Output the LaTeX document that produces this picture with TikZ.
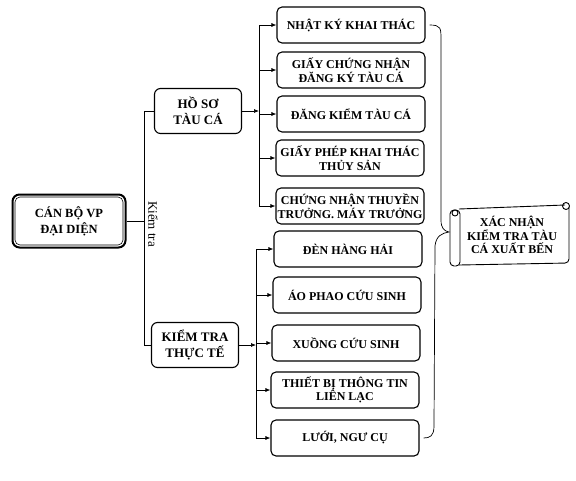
\documentclass[tikz,border=0pt]{standalone}
\usepackage{fontspec}
\setmainfont{Liberation Serif}
\usetikzlibrary{arrows.meta}

\tikzset{
  itembox/.style={draw, line width=1.1pt, rounded corners=5pt, minimum width=148pt,
    minimum height=36pt, inner sep=1pt, align=center,
    font=\bfseries\fontsize{12}{13.5}\selectfont},
  groupbox/.style={draw, line width=1.1pt, rounded corners=6pt, minimum width=87pt,
    minimum height=45pt, inner sep=1pt, align=center,
    font=\bfseries\fontsize{13}{16}\selectfont},
  link/.style={line width=0.7pt},
  arr/.style={link, -{Latex[length=5pt,width=4pt]}}
}

\begin{document}
\begin{tikzpicture}[x=1pt,y=-1pt]
	\useasboundingbox (0,0) rectangle (576,480);

	% root
	\node[draw, line width=2pt, rounded corners=7pt, minimum width=113pt, minimum height=53pt,
	      align=center, font=\bfseries\fontsize{12.5}{16}\selectfont] (cb) at (69,221) {CÁN BỘ VP\\ĐẠI DIỆN};
	\draw[line width=0.6pt, rounded corners=5pt] ([shift={(3.5,3.5)}]cb.north west) rectangle ([shift={(-3.5,-3.5)}]cb.south east);

	% groups
	\node[groupbox] (hs) at (198,111) {HỒ SƠ\\TÀU CÁ};
	\node[groupbox] (kt) at (195,345) {KIỂM TRA\\THỰC TẾ};
	\node[rotate=-90, font=\fontsize{13}{15}\selectfont] (lb) at (153,224) {Kiểm tra};

	% items
	\node[itembox] (n1) at (351,25) {NHẬT KÝ KHAI THÁC};
	\node[itembox] (n2) at (351,70) {GIẤY CHỨNG NHẬN\\ĐĂNG KÝ TÀU CÁ};
	\node[itembox] (n3) at (351,114) {ĐĂNG KIỂM TÀU CÁ};
	\node[itembox] (n4) at (350,158) {GIẤY PHÉP KHAI THÁC\\THỦY SẢN};
	\node[itembox] (n5) at (350,206) {CHỨNG NHẬN THUYỀN\\TRƯỞNG. MÁY TRƯỞNG};
	\node[itembox] (n6) at (348,249) {ĐÈN HÀNG HẢI};
	\node[itembox] (n7) at (347,295) {ÁO PHAO CỨU SINH};
	\node[itembox] (n8) at (346,343) {XUỒNG CỨU SINH};
	\node[itembox] (n9) at (345,390) {THIẾT BỊ THÔNG TIN\\LIÊN LẠC};
	\node[itembox] (n10) at (345,438) {LƯỚI, NGƯ CỤ};

	% trunks
	\coordinate (t0) at (144,0);
	\coordinate (t1) at (259,0);
	\coordinate (t2) at (256,0);

	\draw[link] (cb.east) -- (cb.east -| t0);
	\draw[link] (hs.west) -| (kt.west -| t0) -- (kt.west);

	\draw[arr] (hs.east) -- (hs.east -| t1);
	\draw[link] (n1.west -| t1) -- (n5.west -| t1);
	\draw[arr] (n1.west -| t1) -- (n1.west);
	\draw[arr] (n2.west -| t1) -- (n2.west);
	\draw[arr] (n3.west -| t1) -- (n3.west);
	\draw[arr] (n4.west -| t1) -- (n4.west);
	\draw[arr] (n5.west -| t1) -- (n5.west);

	\draw[arr] (kt.east) -- (kt.east -| t2);
	\draw[link] (n6.west -| t2) -- (n10.west -| t2);
	\draw[arr] (n6.west -| t2) -- (n6.west);
	\draw[arr] (n7.west -| t2) -- (n7.west);
	\draw[arr] (n8.west -| t2) -- (n8.west);
	\draw[arr] (n9.west -| t2) -- (n9.west);
	\draw[arr] (n10.west -| t2) -- (n10.west);

	% scroll
	\node[align=center, font=\bfseries\fontsize{12}{13.5}\selectfont] (xn) at (512,235) {XÁC NHẬN\\KIỂM TRA TÀU\\CÁ XUẤT BẾN};
	\draw[line width=0.9pt] (459,209) -- (565,205);
	\draw[line width=0.9pt, rounded corners=4pt] (569,207) -- (569,263) -- (459,265);
	\draw[line width=0.9pt] (566,206) circle (3.5);
	\draw[line width=0.9pt, rounded corners=4pt] (450,210) rectangle (460,266);
	\draw[line width=0.9pt] (455,213) circle (3);
	\coordinate (tip) at (449,232);

	% brace
	\draw[link] ([xshift=4pt]n1.east) .. controls (441,25) and (441,28) .. (441,40)
		-- (441,220) .. controls (441,228) and (444,231) .. (tip)
		.. controls (442,233) and (436,236) .. (435,246)
		-- (434,426) .. controls (434,436) and (430,438) .. ([xshift=4pt]n10.east);
\end{tikzpicture}
\end{document}
